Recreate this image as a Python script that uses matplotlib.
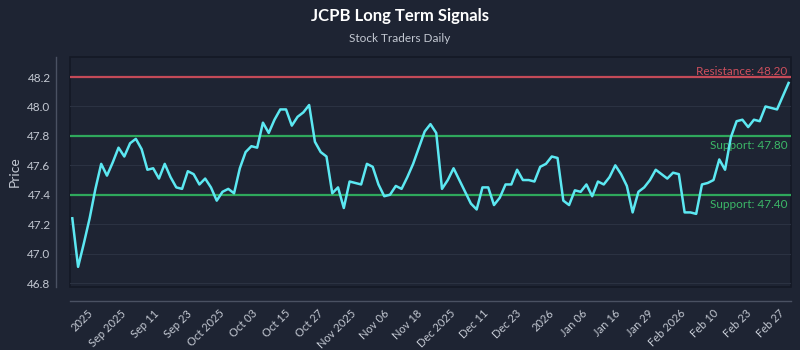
import matplotlib
matplotlib.use("Agg")
import matplotlib.pyplot as plt
import numpy as np

# Closing prices, one per session
prices = [
    47.24, 46.91, 47.07, 47.24, 47.44, 47.61, 47.53, 47.62, 47.72, 47.66,
    47.75, 47.78, 47.71, 47.57, 47.58, 47.51, 47.61, 47.52, 47.45, 47.44,
    47.56, 47.54, 47.47, 47.51, 47.45, 47.36, 47.42, 47.44, 47.41, 47.58,
    47.69, 47.73, 47.72, 47.89, 47.82, 47.91, 47.98, 47.98, 47.87, 47.93,
    47.96, 48.01, 47.76, 47.69, 47.66, 47.41, 47.45, 47.31, 47.49, 47.48,
    47.47, 47.61, 47.59, 47.47, 47.39, 47.40, 47.46, 47.44, 47.52, 47.61,
    47.72, 47.83, 47.88, 47.82, 47.44, 47.50, 47.58, 47.50, 47.42, 47.34,
    47.30, 47.45, 47.45, 47.33, 47.38, 47.47, 47.47, 47.57, 47.50, 47.50,
    47.49, 47.59, 47.61, 47.66, 47.65, 47.36, 47.33, 47.43, 47.42, 47.47,
    47.39, 47.49, 47.47, 47.52, 47.60, 47.54, 47.46, 47.28, 47.42, 47.45,
    47.50, 47.57, 47.54, 47.51, 47.55, 47.54, 47.28, 47.28, 47.27, 47.47,
    47.48, 47.50, 47.64, 47.57, 47.79, 47.90, 47.91, 47.86, 47.91, 47.90,
    48.00, 47.99, 47.98, 48.07, 48.16,
]

tick_labels = [
    "2025", "Sep 2025", "Sep 11", "Sep 23", "Oct 2025", "Oct 03", "Oct 15",
    "Oct 27", "Nov 2025", "Nov 06", "Nov 18", "Dec 2025", "Dec 11", "Dec 23",
    "2026", "Jan 06", "Jan 16", "Jan 29", "Feb 2026", "Feb 10", "Feb 23",
    "Feb 27",
]

resistance_levels = [48.20]
support_levels = [47.80, 47.40]

BG = "#1e2433"
LINE = "#5ce8f2"
GREEN = "#2fa85c"
GREEN_TXT = "#3cb868"
RED = "#c44a58"
RED_TXT = "#d0505e"
TEXT = "#c3c8d2"

plt.rcParams["font.family"] = ["Lato", "DejaVu Sans"]

fig = plt.figure(figsize=(8, 3.5), dpi=100, facecolor=BG)
ax = fig.add_axes([0.0875, 0.18, 0.9015, 0.657])
ax.set_facecolor(BG)
ax.patch.set_edgecolor("#141925")
ax.patch.set_linewidth(1.2)

# Offset left/bottom spines (done first: moving a spine rebuilds its ticks)
for side in ("top", "right"):
    ax.spines[side].set_visible(False)
for side in ("left", "bottom"):
    ax.spines[side].set_position(("outward", 10))
    ax.spines[side].set_color("#4a5162")
    ax.spines[side].set_linewidth(1)

x = np.arange(len(prices))

for lvl in resistance_levels:
    ax.axhline(lvl, color=RED, lw=1.6, zorder=2)
    ax.text(0.995, lvl, f"Resistance: {lvl:.2f}", transform=ax.get_yaxis_transform(),
            ha="right", va="bottom", color=RED_TXT, fontsize=8.5)
for lvl in support_levels:
    ax.axhline(lvl, color=GREEN, lw=1.6, zorder=2)
    ax.text(0.995, lvl - 0.03, f"Support: {lvl:.2f}", transform=ax.get_yaxis_transform(),
            ha="right", va="top", color=GREEN_TXT, fontsize=8.5)

ax.plot(x, prices, color=LINE, lw=1.8, zorder=3)

ax.set_xlim(-0.4, len(prices) - 0.55)
ax.set_ylim(46.773, 48.336)

ax.grid(axis="y", color="#2b3242", lw=0.8, zorder=0)
ax.tick_params(axis="y", length=0, colors=TEXT, labelsize=8.5, pad=4)
ax.tick_params(axis="x", length=0, colors=TEXT, labelsize=8, pad=5)

yt = np.arange(46.8, 48.21, 0.2)
ax.set_yticks(yt, [f"{v:.1f}" for v in yt])
ax.set_xticks(np.linspace(3.9, 123.7, len(tick_labels)), tick_labels,
              rotation=45, ha="right", rotation_mode="default")

ax.set_ylabel("Price", color=TEXT, fontsize=10, labelpad=5)

fig.text(0.5, 0.955, "JCPB Long Term Signals", ha="center", va="center",
         color="white", fontsize=12, fontweight="bold")
fig.text(0.5, 0.89, "Stock Traders Daily", ha="center", va="center",
         color=TEXT, fontsize=8.5)

fig.savefig("out.png", dpi=100, facecolor=BG)
